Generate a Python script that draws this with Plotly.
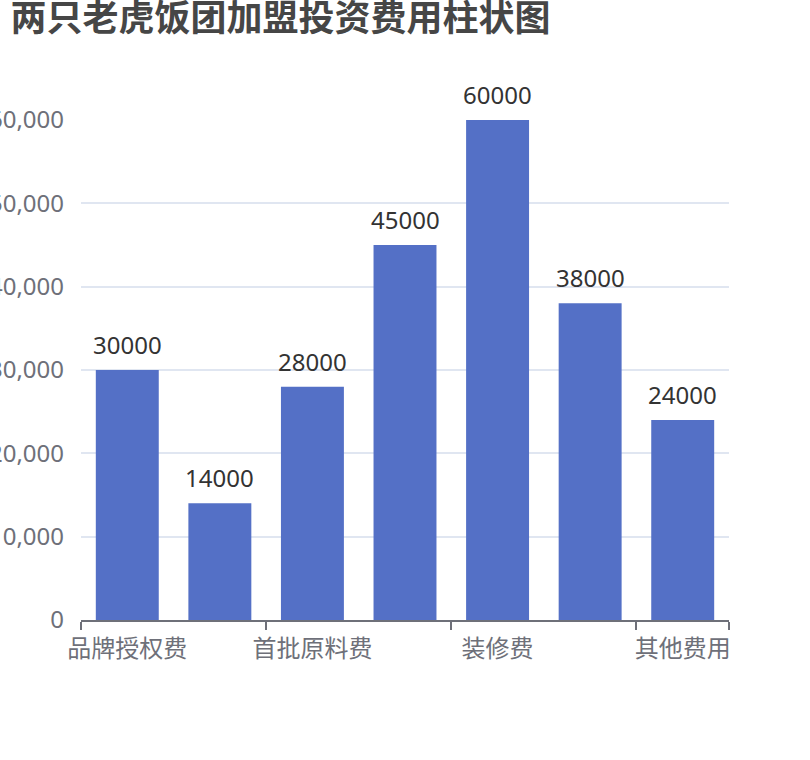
import plotly.graph_objects as go

categories = ["品牌授权费", "加盟保证金", "首批原料费", "设备费用", "装修费", "店铺租金", "其他费用"]
values = [30000, 14000, 28000, 45000, 60000, 38000, 24000]
shown_idx = [0, 2, 4, 6]
y_ticks = [0, 10000, 20000, 30000, 40000, 50000, 60000]

FONT = "Noto Sans, Noto Sans CJK SC, sans-serif"
CJK = "Noto Sans CJK SC, Noto Sans, sans-serif"
x = list(range(len(categories)))

fig = go.Figure(
    go.Bar(
        x=x,
        y=values,
        marker=dict(color="#5470C6", line=dict(width=0)),
        width=0.68,
        hoverinfo="x+y",
    )
)

for xi, v in zip(x, values):
    fig.add_annotation(
        x=xi, y=v, xref="x", yref="y",
        text=str(v), showarrow=False,
        yanchor="bottom", yshift=7,
        font=dict(family=FONT, size=24, color="#333333"),
    )

fig.update_layout(
    width=810,
    height=760,
    margin=dict(l=81, r=81, t=120, b=140),
    paper_bgcolor="white",
    plot_bgcolor="white",
    showlegend=False,
    title=dict(
        text="<b>两只老虎饭团加盟投资费用柱状图</b>",
        font=dict(family=CJK, size=36, color="#464646"),
        x=0.013,
        xanchor="left",
        xref="container",
        y=1,
        yref="container",
        yanchor="top",
        pad=dict(t=6, l=0),
    ),
    xaxis=dict(
        range=[-0.5, len(categories) - 0.5],
        tickmode="array",
        tickvals=[x[i] for i in shown_idx],
        ticktext=[categories[i] for i in shown_idx],
        ticks="",
        showgrid=False,
        showline=True,
        linecolor="#6E7079",
        linewidth=1.5,
        tickfont=dict(family=CJK, size=24, color="#6E7079"),
        ticklabelstandoff=6,
        zeroline=False,
        automargin=False,
        minor=dict(
            tickmode="array",
            tickvals=[-0.5, 1.5, 3.5, 5.5, 6.5],
            ticks="outside",
            ticklen=8,
            tickwidth=1.5,
            tickcolor="#6E7079",
            showgrid=False,
        ),
    ),
    yaxis=dict(
        range=[0, 60000],
        tickmode="array",
        tickvals=y_ticks,
        tickformat=",d",
        showgrid=True,
        gridcolor="#E0E6F1",
        gridwidth=1.5,
        showline=False,
        zeroline=False,
        ticks="",
        ticklabelstandoff=16,
        automargin=False,
        tickfont=dict(family=FONT, size=24, color="#6E7079"),
    ),
)

fig.write_html("out.html")
